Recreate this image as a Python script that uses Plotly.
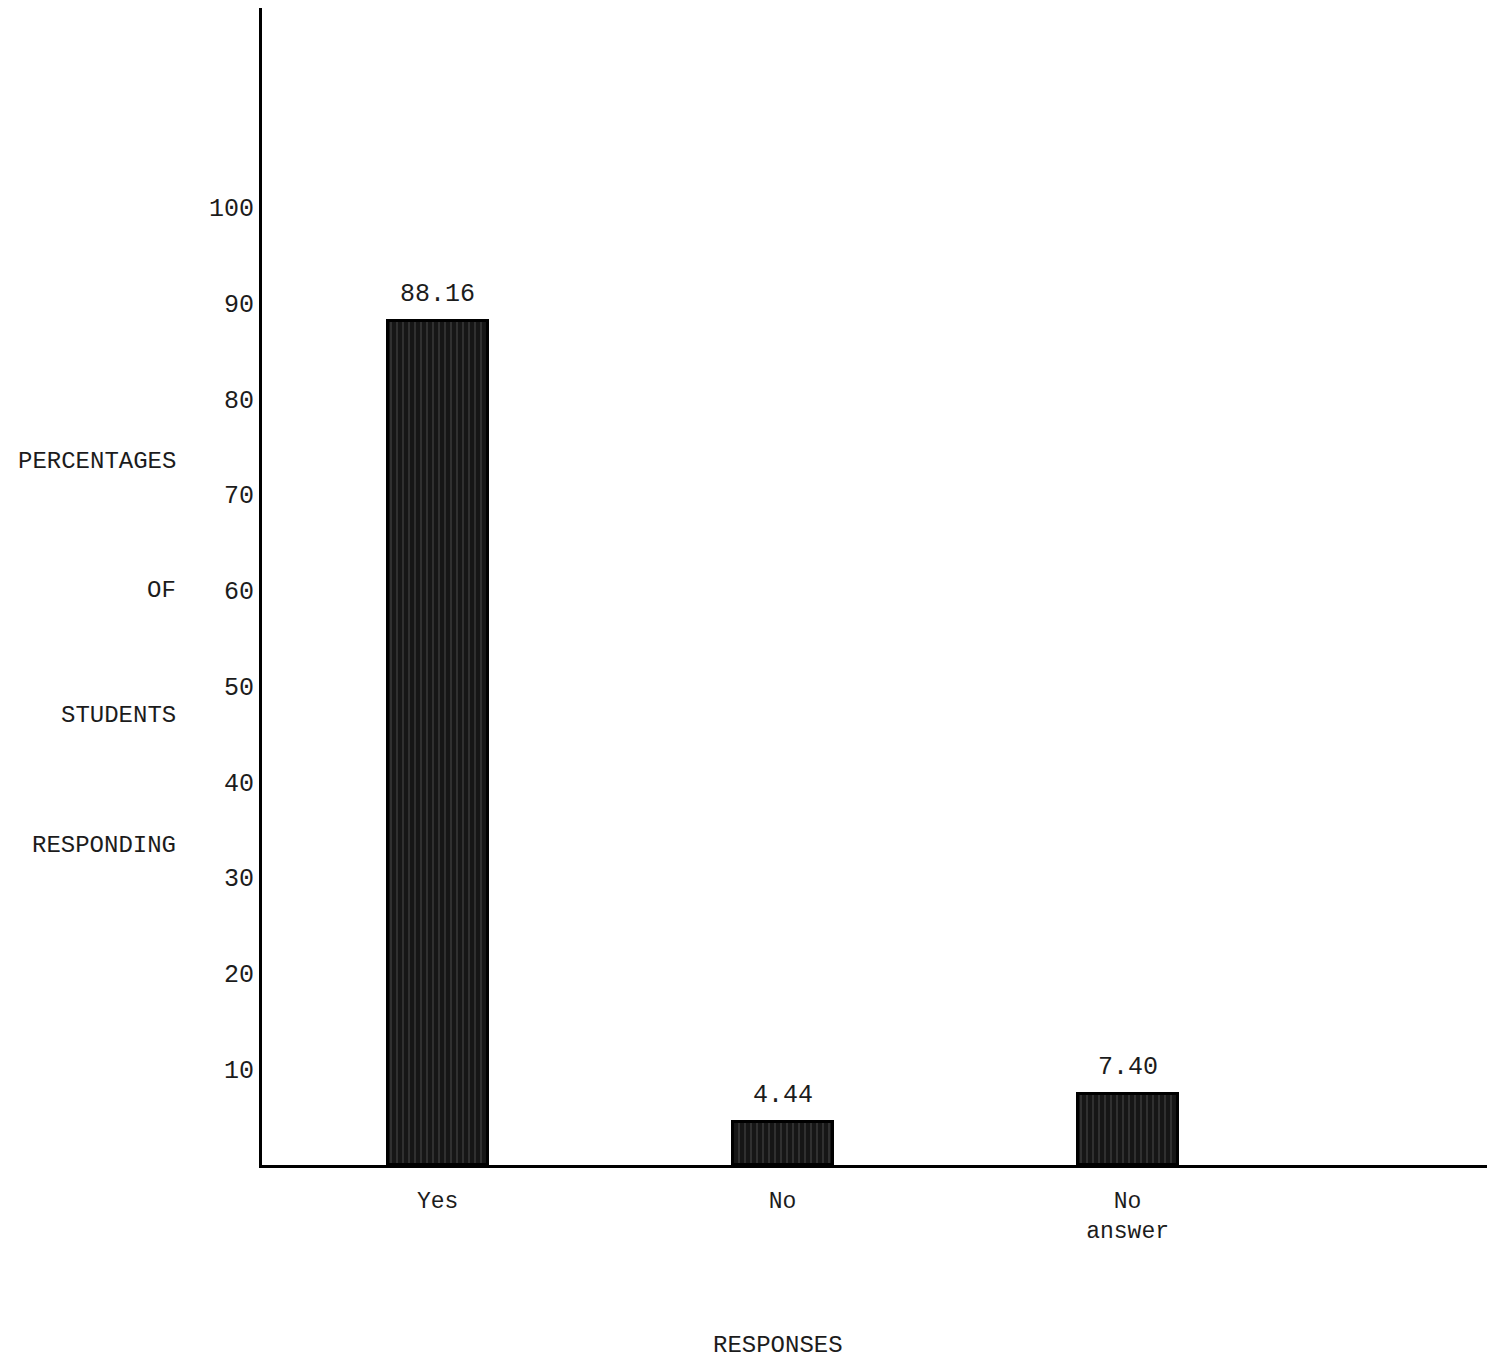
import plotly.graph_objects as go

categories = ["Yes", "No", "No<br>answer"]
percentages = [88.16, 4.44, 7.40]
y_ticks = [10, 20, 30, 40, 50, 60, 70, 80, 90, 100]

FONT = "Liberation Mono, Courier New, monospace"
INK = "#1c1c1c"

fig = go.Figure()
fig.add_trace(go.Bar(
    x=categories,
    y=percentages,
    width=0.29,
    marker=dict(
        color="#161616",
        line=dict(color="#000000", width=3),
        pattern=dict(shape="|", fgcolor="#5a5a5a", bgcolor="#161616", size=6, solidity=0.25),
    ),
    showlegend=False,
    hoverinfo="x+y",
))

for cat, val in zip(categories, percentages):
    fig.add_annotation(
        x=cat, y=val, xref="x", yref="y", text=f"{val:.2f}",
        showarrow=False, yanchor="bottom", yshift=10,
        font=dict(family=FONT, size=25, color=INK),
    )

fig.update_layout(
    width=1487,
    height=1353,
    margin=dict(l=254, r=0, t=0, b=196),
    paper_bgcolor="white",
    plot_bgcolor="white",
    font=dict(family=FONT, size=24, color=INK),
    bargap=0,
    xaxis=dict(
        type="category",
        range=[-0.509, 3.065],
        showgrid=False,
        zeroline=False,
        showline=True,
        linecolor="#000000",
        linewidth=3,
        ticks="",
        tickfont=dict(family=FONT, size=23, color=INK),
        ticklabelstandoff=12,
    ),
    yaxis=dict(
        range=[0, 120.8],
        tickvals=y_ticks,
        ticktext=[str(v) for v in y_ticks],
        showgrid=False,
        zeroline=False,
        showline=True,
        linecolor="#000000",
        linewidth=3,
        ticks="",
        tickfont=dict(family=FONT, size=25, color=INK),
        ticklabelstandoff=0,
    ),
)

title_lines = [("PERCENTAGES", 73.4), ("OF", 60.0), ("STUDENTS", 46.9), ("RESPONDING", 33.4)]
for txt, yv in title_lines:
    fig.add_annotation(
        text=txt, xref="paper", x=0, xshift=-84, xanchor="right",
        yref="y", y=yv, yanchor="middle", showarrow=False,
        font=dict(family=FONT, size=24, color=INK),
    )

fig.add_annotation(
    text="RESPONSES", xref="paper", x=(778 - 262) / 1233, xanchor="center",
    yref="paper", y=0, yshift=-180, yanchor="middle", showarrow=False,
    font=dict(family=FONT, size=24, color=INK),
)

fig.write_html("out.html")
